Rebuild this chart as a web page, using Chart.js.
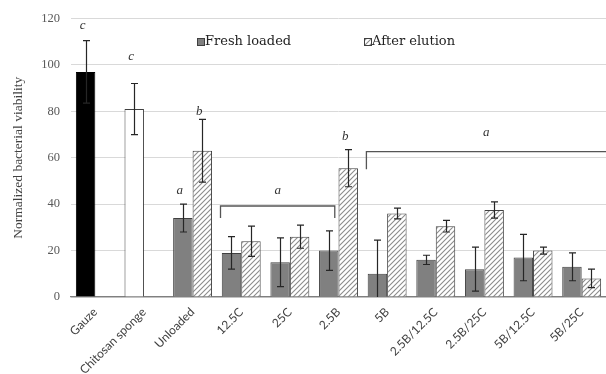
<!DOCTYPE html>
<html>
<head>
<meta charset="utf-8">
<script src="https://cdn.jsdelivr.net/npm/chart.js@4.4.0/dist/chart.umd.min.js"></script>
<style>
  html, body { margin: 0; padding: 0; background: #fff; }
</style>
</head>
<body>
<canvas id="chart" width="606" height="374"></canvas>
<script>
// Data
const categories = ['Gauze', 'Chitosan sponge', 'Unloaded', '12.5C', '25C', '2.5B', '5B', '2.5B/12.5C', '2.5B/25C', '5B/12.5C', '5B/25C'];
const freshLoaded = [97, 81, 34, 19, 15, 20, 10, 16, 12, 17, 13];
const freshErr = [13.5, 11, 6, 7, 10.5, 8.5, 14.5, 2, 9.5, 10, 6];
const afterElution = [null, null, 63, 24, 26, 55.5, 36, 30.5, 37.5, 20, 8];
const elutionErr = [null, null, 13.5, 6.5, 5, 8, 2.3, 2.5, 3.5, 1.5, 4];
const seriesNames = ['Fresh loaded', 'After elution'];
const yTicks = [0, 20, 40, 60, 80, 100, 120];

// significance letters: [category, dataset, letter, value height]
const letters = [
    [0, 0, 'c', 117],
    [1, 0, 'c', 103.5],
    [2, 0, 'a', 46],
    [2, 1, 'b', 80],
    [5, 1, 'b', 69]
];
// brackets: [from category, to category (-1 = right edge), level, leg end, letter, letter level]
const brackets = [
    [3, 5, 39.2, 34, 'a', 46],
    [6, -1, 62.6, 55, 'a', 71]
];

const serif = '"Liberation Serif", "DejaVu Serif", serif';

// hatch fill for the "After elution" bars
function hatch() {
    const c = document.createElement('canvas');
    c.width = 5; c.height = 5;
    const g = c.getContext('2d');
    g.fillStyle = '#fff';
    g.fillRect(0, 0, 5, 5);
    g.strokeStyle = '#8c8c8c';
    g.lineWidth = 1.1;
    g.beginPath();
    g.moveTo(0, 5); g.lineTo(5, 0);
    g.moveTo(-1, 1); g.lineTo(1, -1);
    g.moveTo(4, 6); g.lineTo(6, 4);
    g.stroke();
    return g.createPattern(c, 'repeat');
}
const hatchFill = hatch();

const freshColors = freshLoaded.map((v, i) => i === 0 ? '#000' : i === 1 ? '#fff' : '#808080');
const freshBorders = freshLoaded.map((v, i) => i === 0 ? '#000' : '#404040');

const errorBars = {
    id: 'errorBars',
    afterDatasetsDraw(chart) {
        const ctx = chart.ctx, y = chart.scales.y, area = chart.chartArea;
        const errs = [freshErr, elutionErr];
        ctx.save();
        ctx.strokeStyle = '#262626';
        ctx.lineWidth = 1.2;
        chart.data.datasets.forEach((ds, d) => {
            chart.getDatasetMeta(d).data.forEach((bar, i) => {
                const v = ds.data[i], e = errs[d][i];
                if (v == null || e == null) return;
                const x = Math.round(bar.x) + 0.5;
                const t = y.getPixelForValue(v + e);
                const low = v - e;
                const b = Math.min(y.getPixelForValue(low), area.bottom);
                ctx.beginPath();
                ctx.moveTo(x, t); ctx.lineTo(x, b);
                ctx.moveTo(x - 3.5, t); ctx.lineTo(x + 3.5, t);
                if (low > 0) { ctx.moveTo(x - 3.5, b); ctx.lineTo(x + 3.5, b); }
                ctx.stroke();
            });
        });
        ctx.restore();
    }
};

const marks = {
    id: 'marks',
    afterDraw(chart) {
        const ctx = chart.ctx, y = chart.scales.y, area = chart.chartArea;
        ctx.save();
        ctx.fillStyle = '#333';
        ctx.font = 'italic 13px ' + serif;
        ctx.textAlign = 'center';
        ctx.textBaseline = 'middle';
        letters.forEach(([c, d, t, v]) => {
            const bar = chart.getDatasetMeta(d).data[c];
            ctx.fillText(t, bar.x - 3, y.getPixelForValue(v));
        });
        ctx.strokeStyle = '#555';
        ctx.lineWidth = 1.3;
        brackets.forEach(([a, b, lvl, leg, t, tl]) => {
            const x0 = chart.getDatasetMeta(0).data[a].x - 11;
            const x1 = b < 0 ? area.right : chart.getDatasetMeta(0).data[b].x + 6;
            const yl = y.getPixelForValue(lvl), yg = y.getPixelForValue(leg);
            ctx.beginPath();
            ctx.moveTo(x0, yg); ctx.lineTo(x0, yl); ctx.lineTo(x1, yl);
            if (b >= 0) ctx.lineTo(x1, yg);
            ctx.stroke();
            ctx.fillText(t, (x0 + x1) / 2, y.getPixelForValue(tl));
        });
        // legend inside the plot
        ctx.font = '13px "DejaVu Serif", serif';
        ctx.textAlign = 'left';
        const items = [[197, '#808080'], [364, hatchFill]];
        items.forEach(([lx, fill], i) => {
            ctx.fillStyle = fill;
            ctx.fillRect(lx, 38, 7, 7);
            ctx.strokeStyle = '#404040';
            ctx.lineWidth = 1;
            ctx.strokeRect(lx + 0.5, 38.5, 7, 7);
            ctx.fillStyle = '#222';
            ctx.fillText(seriesNames[i], lx + 8, 42);
        });
        ctx.restore();
    }
};

new Chart(document.getElementById('chart'), {
    type: 'bar',
    data: {
        labels: categories,
        datasets: [{
            label: seriesNames[0],
            data: freshLoaded,
            backgroundColor: freshColors,
            borderColor: freshBorders,
            borderWidth: 1,
            categoryPercentage: 0.8,
            barPercentage: 1.0
        }, {
            label: seriesNames[1],
            data: afterElution,
            backgroundColor: hatchFill,
            borderColor: '#404040',
            borderWidth: 1,
            categoryPercentage: 0.8,
            barPercentage: 1.0
        }]
    },
    options: {
        responsive: false,
        animation: false,
        devicePixelRatio: 1,
        layout: { padding: { top: 12, right: 0, left: 6, bottom: 0 } },
        plugins: { legend: { display: false }, tooltip: { enabled: false } },
        scales: {
            x: {
                grid: { display: false },
                border: { color: '#7f7f7f', width: 1.3 },
                ticks: {
                    autoSkip: false, maxRotation: 45, minRotation: 45, padding: 0,
                    color: '#404040', font: { family: 'Lato, sans-serif', size: 12 }
                },
                afterFit: s => { s.height = 77; }
            },
            y: {
                min: 0, max: 120,
                afterBuildTicks: s => { s.ticks = yTicks.map(v => ({ value: v })); },
                grid: { color: '#d9d9d9', drawTicks: false },
                border: { display: false },
                ticks: { color: '#595959', padding: 11, font: { family: serif, size: 12.5 } },
                title: {
                    display: true, text: 'Normalized bacterial viability', color: '#404040',
                    font: { family: serif, size: 13.5 }, padding: { top: 4, bottom: 0 }
                },
                afterFit: s => { s.width = 65; }
            }
        }
    },
    plugins: [errorBars, marks]
});
</script>
</body>
</html>
